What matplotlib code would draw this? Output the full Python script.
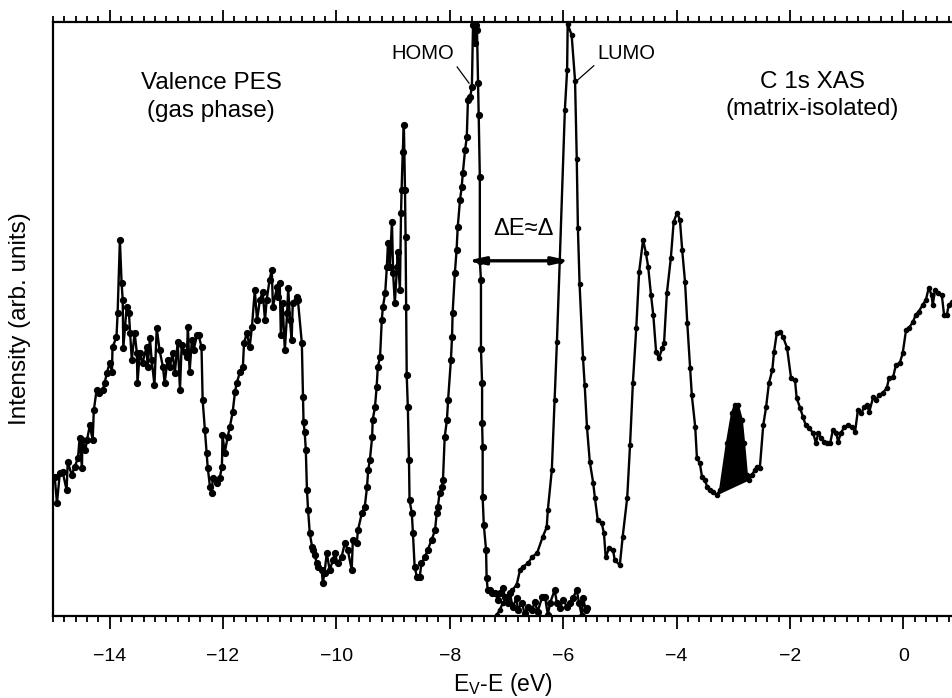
import numpy as np
import matplotlib
matplotlib.use("Agg")
import matplotlib.pyplot as plt
from matplotlib.ticker import MultipleLocator

plt.rcParams['font.family'] = ['Liberation Sans', 'DejaVu Sans']
plt.rcParams['mathtext.default'] = 'regular'

# valence photoemission (gas phase), energy E_V-E in eV, intensity arb. units
pes_e = [-14.97, -14.93, -14.88, -14.83, -14.76, -14.74, -14.67, -14.62, -14.56, -14.53,
         -14.49, -14.48, -14.43, -14.40, -14.35, -14.30, -14.28, -14.23, -14.18, -14.12,
         -14.09, -14.05, -14.00, -13.96, -13.95, -13.88, -13.86, -13.82, -13.79, -13.77,
         -13.76, -13.73, -13.70, -13.66, -13.64, -13.61, -13.56, -13.52, -13.51, -13.47,
         -13.42, -13.35, -13.33, -13.29, -13.26, -13.21, -13.17, -13.12, -13.06, -13.03,
         -12.98, -12.94, -12.89, -12.85, -12.80, -12.76, -12.73, -12.68, -12.64, -12.62,
         -12.59, -12.55, -12.52, -12.46, -12.43, -12.38, -12.36, -12.32, -12.29, -12.27,
         -12.23, -12.20, -12.18, -12.11, -12.06, -12.02, -12.01, -11.97, -11.92, -11.88,
         -11.83, -11.79, -11.76, -11.70, -11.65, -11.63, -11.58, -11.53, -11.49, -11.44,
         -11.40, -11.35, -11.30, -11.26, -11.23, -11.18, -11.14, -11.12, -11.05, -11.03,
         -11.00, -10.98, -10.95, -10.91, -10.87, -10.85, -10.82, -10.79, -10.77, -10.70,
         -10.68, -10.61, -10.59, -10.58, -10.56, -10.54, -10.52, -10.50, -10.47, -10.43,
         -10.42, -10.38, -10.35, -10.33, -10.26, -10.24, -10.21, -10.17, -10.12, -10.06,
         -10.03, -9.98, -9.91, -9.85, -9.80, -9.73, -9.71, -9.64, -9.62, -9.55,
         -9.50, -9.46, -9.44, -9.41, -9.37, -9.36, -9.32, -9.29, -9.27, -9.23,
         -9.20, -9.18, -9.14, -9.11, -9.09, -9.06, -9.02, -9.00, -8.97, -8.93,
         -8.92, -8.88, -8.86, -8.85, -8.83, -8.81, -8.79, -8.78, -8.77, -8.76,
         -8.74, -8.72, -8.71, -8.67, -8.65, -8.62, -8.58, -8.53, -8.50, -8.44,
         -8.39, -8.32, -8.26, -8.23, -8.21, -8.18, -8.14, -8.12, -8.09, -8.05,
         -8.03, -7.98, -7.96, -7.95, -7.91, -7.88, -7.86, -7.82, -7.79, -7.77,
         -7.73, -7.70, -7.68, -7.64, -7.61, -7.59, -7.57, -7.56, -7.54, -7.52,
         -7.50, -7.49, -7.47, -7.47, -7.45, -7.45, -7.43, -7.43, -7.42, -7.42,
         -7.40, -7.36, -7.35, -7.33, -7.29, -7.26, -7.20, -7.15, -7.12, -7.06,
         -7.03, -6.97, -6.94, -6.89, -6.82, -6.80, -6.73, -6.68, -6.62, -6.55,
         -6.50, -6.45, -6.37, -6.32, -6.27, -6.23, -6.15, -6.11, -6.06, -6.00,
         -5.93, -5.88, -5.83, -5.76, -5.72, -5.67, -5.65, -5.60, -5.58]
pes_i = [23.2, 18.8, 23.8, 24.0, 21.0, 25.7, 23.5, 24.8, 26.3, 29.7,
         24.7, 29.3, 27.7, 29.3, 31.8, 29.3, 34.3, 37.7, 37.2, 37.7,
         38.8, 40.5, 42.2, 40.7, 44.8, 46.5, 50.5, 62.7, 55.5, 52.7,
         44.7, 48.2, 51.5, 50.5, 47.2, 42.7, 47.2, 43.8, 38.8, 43.8,
         42.2, 44.8, 41.5, 46.3, 42.7, 38.5, 48.0, 44.3, 41.5, 38.8,
         42.7, 41.5, 43.8, 40.5, 45.7, 37.7, 45.2, 44.0, 43.2, 48.2,
         40.7, 46.0, 44.3, 46.8, 46.8, 44.8, 36.0, 31.0, 27.2, 24.7,
         21.5, 20.5, 23.0, 22.2, 23.0, 24.8, 30.2, 27.2, 29.8, 31.5,
         34.0, 37.3, 38.8, 40.7, 41.5, 45.5, 47.2, 44.8, 48.2, 54.3,
         49.3, 52.7, 54.0, 49.3, 52.7, 56.0, 57.7, 51.5, 54.8, 53.2,
         55.5, 46.8, 52.2, 44.3, 50.5, 54.7, 49.3, 46.0, 52.2, 53.2,
         52.7, 45.5, 36.5, 32.3, 30.7, 27.7, 21.0, 17.7, 13.8, 11.5,
         11.0, 10.2, 8.8, 8.2, 7.7, 5.5, 7.2, 10.5, 7.7, 9.3,
         10.5, 8.8, 9.8, 12.2, 11.0, 7.7, 12.7, 12.2, 14.3, 17.2,
         18.2, 21.5, 24.3, 26.0, 29.8, 32.7, 34.8, 38.2, 41.5, 43.2,
         49.3, 51.5, 53.8, 58.2, 62.2, 58.2, 65.7, 57.2, 52.2, 58.2,
         60.7, 54.3, 67.2, 71.0, 77.3, 81.8, 71.0, 63.2, 51.5, 40.2,
         34.8, 26.0, 19.3, 17.2, 13.8, 8.2, 6.5, 6.5, 8.8, 9.8,
         11.0, 12.7, 14.3, 17.2, 18.2, 20.5, 21.5, 22.7, 29.8, 32.7,
         36.0, 42.7, 46.5, 50.5, 57.2, 61.0, 64.8, 69.3, 71.5, 73.8,
         77.7, 79.8, 86.0, 86.5, 88.2, 98.5, 98.8, 95.5, 98.5, 97.7,
         88.8, 83.5, 73.2, 59.2, 56.0, 44.5, 38.8, 32.2, 28.2, 19.8,
         15.2, 11.0, 6.3, 4.3, 4.3, 3.8, 3.8, 2.7, 3.8, 4.7,
         3.2, 2.2, 3.8, 1.5, 3.0, 1.0, 2.2, 0.5, 1.5, 1.0,
         2.3, 0.7, 3.2, 3.2, 0.2, 2.2, 4.3, 2.2, 1.3, 2.7,
         1.5, 2.2, 3.0, 4.3, 2.2, 0.0, 3.0, 1.0, 1.3]

# C 1s absorption (matrix-isolated), shifted onto the same energy scale
xas_e = [-7.17, -7.12, -7.06, -6.99, -6.90, -6.82, -6.76, -6.71, -6.62, -6.55,
         -6.46, -6.36, -6.29, -6.27, -6.20, -6.15, -6.11, -6.06, -5.97, -5.93,
         -5.92, -5.85, -5.79, -5.76, -5.74, -5.71, -5.65, -5.62, -5.58, -5.53,
         -5.47, -5.44, -5.39, -5.32, -5.28, -5.25, -5.19, -5.12, -5.09, -5.00,
         -4.95, -4.87, -4.82, -4.77, -4.71, -4.66, -4.59, -4.54, -4.50, -4.45,
         -4.41, -4.36, -4.31, -4.25, -4.22, -4.17, -4.10, -4.05, -3.99, -3.94,
         -3.90, -3.85, -3.81, -3.76, -3.73, -3.67, -3.64, -3.59, -3.55, -3.50,
         -3.46, -3.41, -3.36, -3.29, -3.23, -3.11, -3.02, -2.97, -2.92, -2.85,
         -2.81, -2.76, -2.72, -2.67, -2.62, -2.58, -2.53, -2.47, -2.42, -2.37,
         -2.31, -2.28, -2.23, -2.17, -2.12, -2.05, -1.98, -1.91, -1.88, -1.82,
         -1.77, -1.72, -1.66, -1.59, -1.54, -1.50, -1.45, -1.40, -1.34, -1.29,
         -1.24, -1.18, -1.15, -1.10, -1.04, -0.97, -0.90, -0.85, -0.80, -0.74,
         -0.69, -0.64, -0.60, -0.53, -0.48, -0.43, -0.36, -0.29, -0.25, -0.18,
         -0.13, -0.06, -0.01, 0.05, 0.10, 0.17, 0.22, 0.27, 0.34, 0.40,
         0.45, 0.50, 0.52, 0.56, 0.61, 0.68, 0.72, 0.77, 0.80, 0.86, 0.92]
xas_i = [0.2, 1.0, 2.2, 3.2, 4.3, 5.2, 7.7, 8.2, 8.8, 9.8,
         10.5, 13.2, 14.8, 17.7, 24.3, 36.0, 45.7, 59.2, 84.3, 91.0,
         98.7, 96.8, 89.2, 76.2, 64.7, 55.3, 43.0, 38.5, 31.5, 25.7,
         22.2, 19.7, 16.0, 15.5, 13.8, 9.8, 11.3, 11.0, 9.3, 8.5,
         13.2, 19.7, 28.5, 38.8, 48.0, 57.3, 62.7, 60.5, 58.2, 53.5,
         50.2, 44.0, 43.0, 44.7, 45.5, 53.8, 59.7, 65.7, 67.2, 66.0,
         61.0, 55.7, 48.8, 41.3, 36.8, 31.5, 26.3, 25.5, 23.2, 22.7,
         21.5, 21.0, 20.7, 20.2, 21.0, 28.8, 33.8, 35.2, 35.2, 32.7,
         28.8, 23.5, 22.7, 23.5, 24.3, 24.8, 24.7, 31.8, 34.8, 38.8,
         41.0, 44.0, 47.2, 47.3, 46.5, 44.7, 39.7, 39.3, 36.3, 34.7,
         33.2, 31.8, 31.3, 30.5, 28.8, 30.5, 29.7, 29.0, 28.8, 28.8,
         31.0, 30.5, 29.0, 30.5, 31.5, 31.8, 31.5, 30.7, 34.3, 33.8,
         34.8, 35.2, 34.0, 36.5, 36.0, 36.8, 37.2, 38.0, 39.7, 39.8,
         41.8, 42.2, 43.8, 47.7, 48.0, 49.0, 50.2, 50.7, 51.8, 52.7,
         54.7, 53.5, 51.8, 54.3, 53.8, 53.5, 50.2, 50.2, 51.8, 52.3, 51.0]

fill_range = (-3.29, -2.72)
gap_y = 59.2
gap_x = (-7.70, -5.87)

fig = plt.figure(figsize=(9.52, 6.98), dpi=100)
ax = fig.add_axes([53 / 952, 82 / 698, 899 / 952, 594 / 698])

ax.plot(pes_e, pes_i, color='black', lw=1.7, marker='o', ms=4.2, zorder=3)
ax.plot(xas_e, xas_i, color='black', lw=1.7, marker='o', ms=3.0, zorder=3)

# shaded pre-edge feature, baseline drawn as a straight chord
xe = np.array(xas_e)
xi = np.array(xas_i)
m = (xe >= fill_range[0]) & (xe <= fill_range[1])
chord = np.interp(xe[m], [xe[m][0], xe[m][-1]], [xi[m][0], xi[m][-1]])
ax.fill_between(xe[m], chord, xi[m], color='black', lw=0)

ax.annotate('', xy=(gap_x[0], gap_y), xytext=(gap_x[1], gap_y),
            arrowprops=dict(arrowstyle='<|-|>,head_length=1.0,head_width=0.22',
                            color='black', lw=2.4, shrinkA=0, shrinkB=0))
ax.text(-6.70, 64.5, 'ΔE≈Δ', ha='center', va='center', fontsize=17)

ax.text(-12.21, 86.5, 'Valence PES\n(gas phase)', ha='center', va='center',
        fontsize=17.5, linespacing=1.35)
ax.text(-1.60, 86.8, 'C 1s XAS\n(matrix-isolated)', ha='center', va='center',
        fontsize=17.5, linespacing=1.28)

ax.text(-8.47, 93.7, 'HOMO', ha='center', va='center', fontsize=14.5)
ax.plot([-7.87, -7.66], [91.5, 88.8], color='black', lw=0.9)
ax.text(-4.89, 93.7, 'LUMO', ha='center', va='center', fontsize=14.5)
ax.plot([-5.46, -5.76], [91.7, 89.2], color='black', lw=0.9)

ax.set_xlim(-15.0, 0.86)
ax.set_ylim(0, 99)
ax.xaxis.set_major_locator(MultipleLocator(2))
ax.xaxis.set_minor_locator(MultipleLocator(0.2))
ax.tick_params(axis='x', which='both', direction='out', top=True, bottom=True,
               width=1.3, labelsize=14, pad=14)
ax.tick_params(axis='x', which='major', length=9)
ax.tick_params(axis='x', which='minor', length=4.5)
ax.set_yticks([])
ax.spines['right'].set_visible(False)
for s in ['left', 'top', 'bottom']:
    ax.spines[s].set_linewidth(1.6)

ax.set_xlabel('E$_{V}$-E (eV)', fontsize=16.5, va='center')
ax.xaxis.set_label_coords(0.5, -0.116)
ax.set_ylabel('Intensity (arb. units)', fontsize=17.5, va='center')
ax.yaxis.set_label_coords(-0.0367, 0.5)

fig.savefig('out.png', dpi=100)
